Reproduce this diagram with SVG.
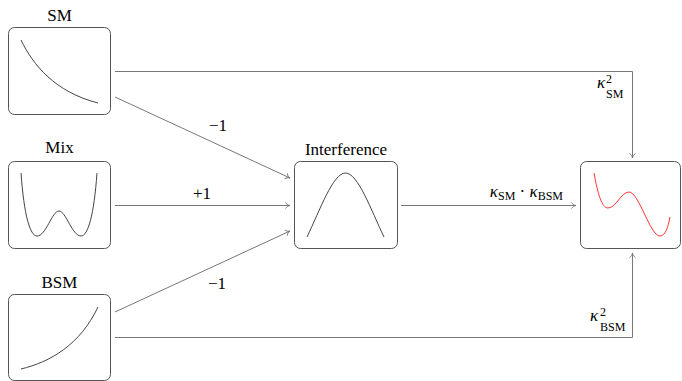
<svg xmlns="http://www.w3.org/2000/svg" width="682" height="381" viewBox="0 0 682 381">
<style>
.box{fill:#fff;stroke:#555;stroke-width:1}
.crv{fill:none;stroke:#444;stroke-width:1}
.red{fill:none;stroke:#f33;stroke-width:1}
text,tspan{font-family:'Liberation Serif','Times New Roman',serif}
.lbl{font-size:17px;fill:#000}
.k{font-style:italic;font-size:17px;fill:#000}
.s{font-size:12px;fill:#000}
.con{fill:none;stroke:#777;stroke-width:1}
</style>
<defs>
<marker id="arr" markerUnits="userSpaceOnUse" markerWidth="10" markerHeight="10" refX="0" refY="0" viewBox="-6 -5 8 10" orient="auto" overflow="visible">
<path d="M-4.5,-3 C-3.5,-1.2 -1.5,-0.3 0,0 C-1.5,0.3 -3.5,1.2 -4.5,3" fill="none" stroke="#777" stroke-width="0.9"/>
</marker>
</defs>
<g id="connectors">
<path class="con" d="M115,71.5 H632.5 V158" marker-end="url(#arr)"/>
<path class="con" d="M115,97 L290,178" marker-end="url(#arr)"/>
<path class="con" d="M115,205.5 H290" marker-end="url(#arr)"/>
<path class="con" d="M115,312 L290,231" marker-end="url(#arr)"/>
<path class="con" d="M115,337.5 H632.5 V253" marker-end="url(#arr)"/>
<path class="con" d="M401,205.5 H576" marker-end="url(#arr)"/>
<text class="lbl" x="218" y="131" text-anchor="middle">−1</text>
<text class="lbl" x="202" y="199" text-anchor="middle">+1</text>
<text class="lbl" x="217" y="289" text-anchor="middle">−1</text>
<text class="k" x="597" y="88">κ</text>
<text class="s" x="606" y="83">2</text>
<text class="s" x="606" y="98">SM</text>
<text class="k" x="590" y="321">κ</text>
<text class="s" x="600" y="316">2</text>
<text class="s" x="600" y="331">BSM</text>
<text x="563" y="197" text-anchor="end"><tspan class="k">κ</tspan><tspan class="s" dy="2.5">SM</tspan><tspan class="lbl" dy="-2.5"> · </tspan><tspan class="k">κ</tspan><tspan class="s" dy="2.5">BSM</tspan></text>
</g>
<g id="SM">
<text class="lbl" x="59.5" y="21" text-anchor="middle">SM</text>
<rect class="box" x="8.5" y="27.5" width="102" height="87" rx="6"/>
<path class="crv" d="M21,40 C33,65 55,92 98,103"/>
</g>
<g id="Mix">
<text class="lbl" x="59.5" y="153" text-anchor="middle">Mix</text>
<rect class="box" x="8.5" y="161.5" width="102" height="87" rx="6"/>
<path class="crv" d="M21,173 C24,215 30,236 37,236 C46,236 52,211 59,211 C66,211 72,236 81,236 C88,236 94,215 97,173"/>
</g>
<g id="BSM">
<text class="lbl" x="59.5" y="288" text-anchor="middle">BSM</text>
<rect class="box" x="8.5" y="294.5" width="102" height="86" rx="6"/>
<path class="crv" d="M21,369 C50,362 80,345 98,307"/>
</g>
<g id="Interference">
<text class="lbl" x="346" y="155" text-anchor="middle">Interference</text>
<rect class="box" x="294.5" y="161.5" width="103" height="87" rx="6"/>
<path class="crv" d="M307,237 C320,210 333,173 345.5,173 C358,173 371,210 384,237"/>
</g>
<g id="Output">
<rect class="box" x="580.5" y="161.5" width="100" height="87" rx="6"/>
<path class="red" d="M594,173 C598,195 602,208 608,208 C616,208 621,192 629,192 C639,192 650,236 660,236 C665,236 668,228 670,217"/>
</g>
</svg>
